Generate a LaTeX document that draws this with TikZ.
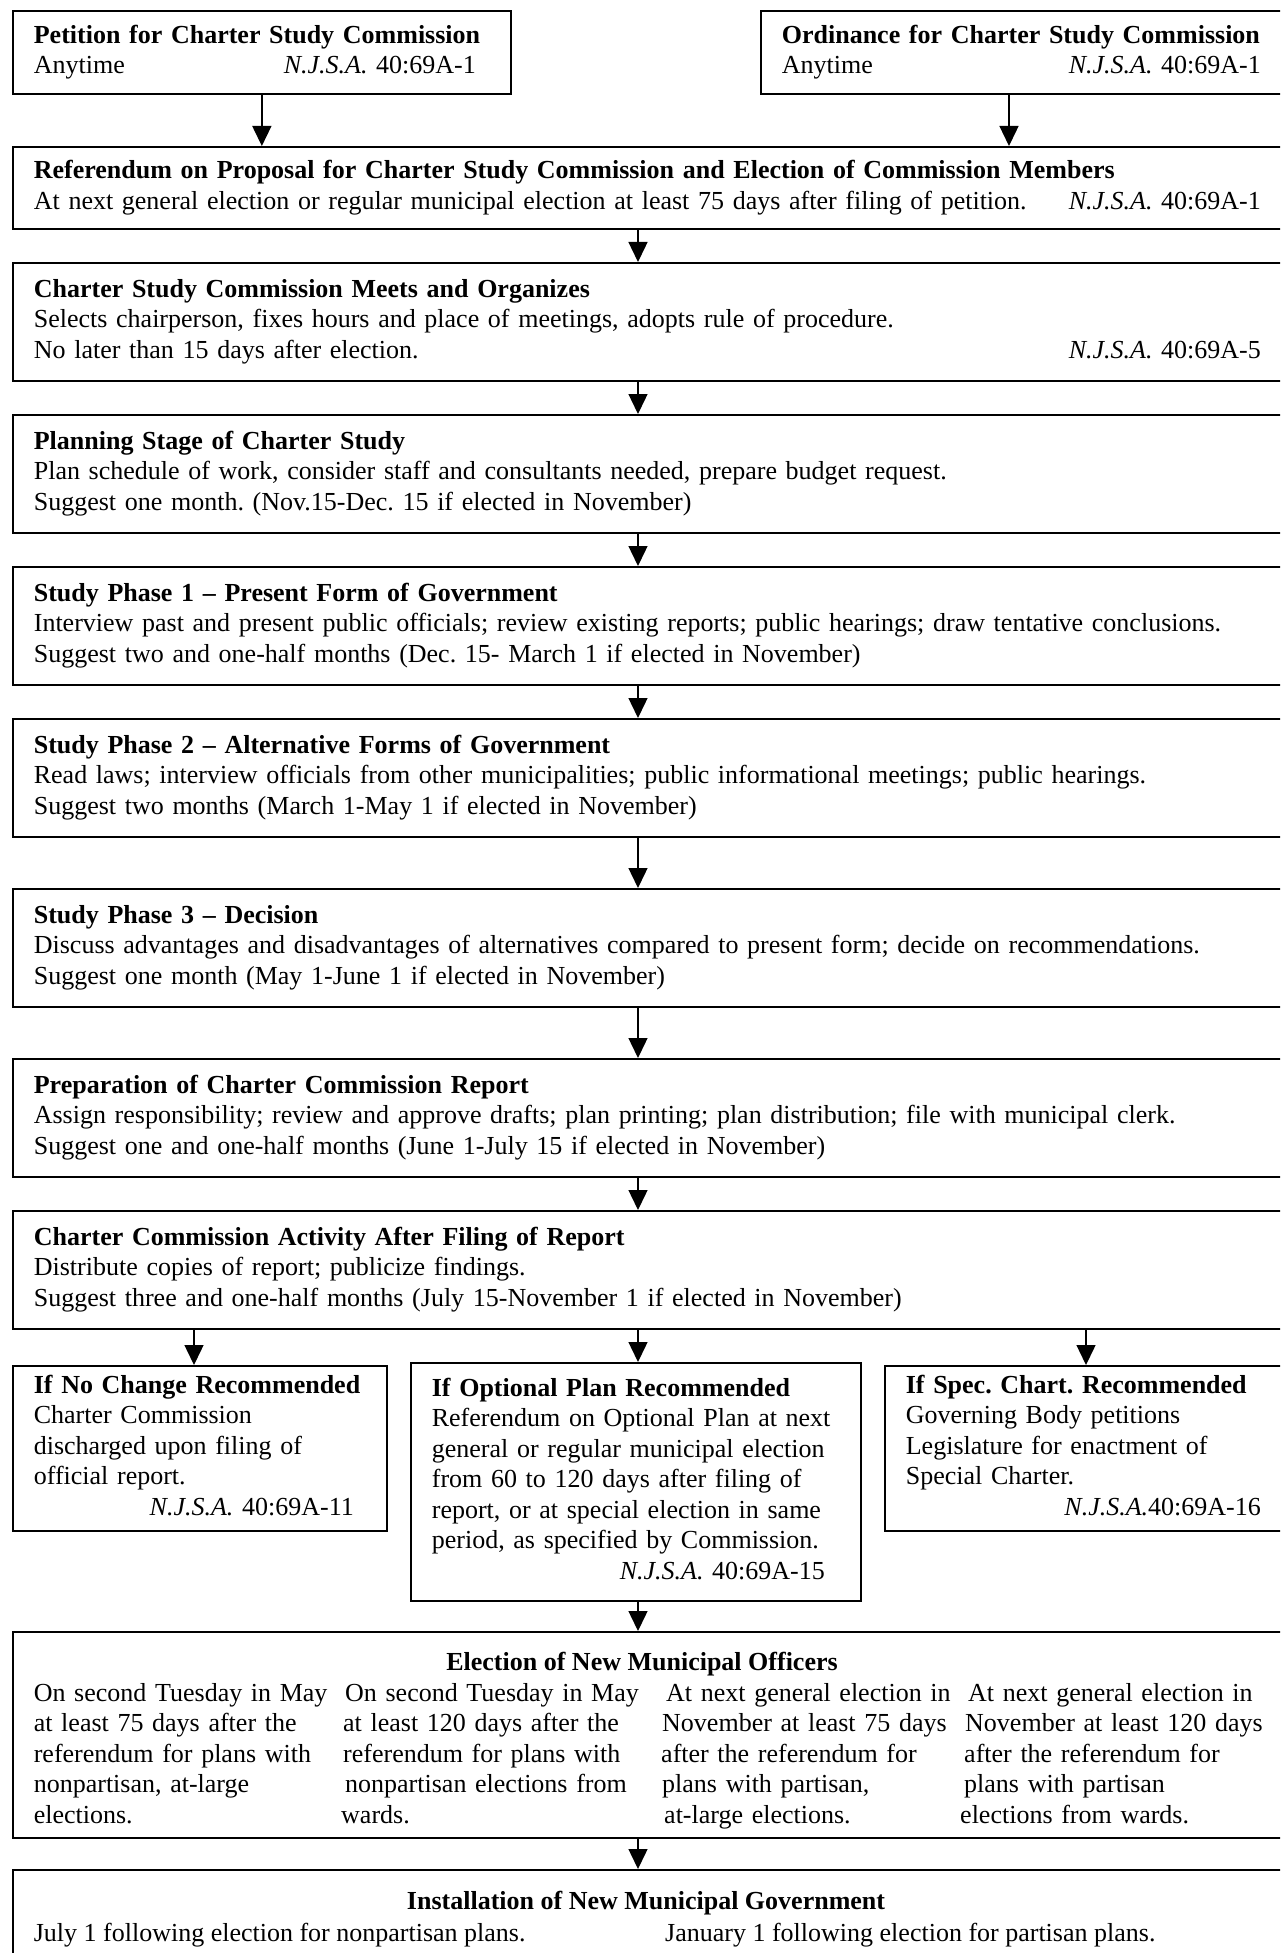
\documentclass[tikz,border=0pt]{standalone}
\usepackage{fontspec}
\setmainfont{Liberation Serif}
\usetikzlibrary{arrows.meta}
\newcommand{\lnbr}{\\\strut}
\newcommand{\njsa}{\textit{N.J.S.A.}}
\newcommand{\rpad}[1]{\hspace*{#1}\null}
\frenchspacing
\begin{document}
\begin{tikzpicture}[x=1pt,y=-1pt,
  font=\fontsize{26}{30.5}\selectfont\frenchspacing,
  box/.style={draw=black, line width=1.7pt, rectangle, anchor=north west, align=left, inner xsep=21pt, inner ysep=0pt},
  wide/.style={box, text width=1236pt, minimum height=118pt},
  plain/.style={inner sep=0pt, align=left, anchor=base west},
  ttl/.style={inner sep=0pt, anchor=base, font=\fontsize{26}{30.5}\selectfont\bfseries},
  arr/.style={line width=1.4pt, -{Triangle[length=20pt,width=19pt]}}]
\useasboundingbox (0,0) rectangle (1280,1953);
\fill[white] (0,0) rectangle (1280,1953);
\clip (0,0) rectangle (1280,1953);

\coordinate (axc) at (638,0);
\coordinate (axo) at (1009,0);
\coordinate (ax1) at (194,0);
\coordinate (ax3) at (1086,0);

\node[box, text width=456pt, minimum height=83pt] (pet) at (12,10)
 {\strut\textbf{Petition for Charter Study Commission}\lnbr Anytime\hspace{\fill}\njsa{} 40:69A-1\rpad{14pt}};
\node[box, text width=492pt, minimum height=83pt] (ord) at (760,10)
 {\strut\textbf{Ordinance for Charter Study Commission}\lnbr Anytime\hspace{\fill}\njsa{} 40:69A-1\rpad{13pt}};

\node[box, text width=1236pt, minimum height=82pt] (ref) at (12,146)
 {\strut\textbf{Referendum on Proposal for Charter Study Commission and Election of Commission Members}\lnbr At next general election or regular municipal election at least 75 days after filing of petition.\hspace{\fill}\njsa{} 40:69A-1\rpad{9pt}};

\node[wide] (meet) at (12,262)
 {\strut\textbf{Charter Study Commission Meets and Organizes}\lnbr Selects chairperson, fixes hours and place of meetings, adopts rule of procedure.\lnbr No later than 15 days after election.\hspace{\fill}\njsa{} 40:69A-5\rpad{9pt}};

\node[wide] (plan) at (12,414)
 {\strut\textbf{Planning Stage of Charter Study}\lnbr Plan schedule of work, consider staff and consultants needed, prepare budget request.\lnbr Suggest one month. (Nov.15-Dec. 15 if elected in November)};

\node[wide] (ph1) at (12,566)
 {\strut\textbf{Study Phase 1 -- Present Form of Government}\lnbr Interview past and present public officials; review existing reports; public hearings; draw tentative conclusions.\lnbr Suggest two and one-half months (Dec. 15- March 1 if elected in November)};

\node[wide] (ph2) at (12,718)
 {\strut\textbf{Study Phase 2 -- Alternative Forms of Government}\lnbr Read laws; interview officials from other municipalities; public informational meetings; public hearings.\lnbr Suggest two months (March 1-May 1 if elected in November)};

\node[wide] (ph3) at (12,888)
 {\strut\textbf{Study Phase 3 -- Decision}\lnbr Discuss advantages and disadvantages of alternatives compared to present form; decide on recommendations.\lnbr Suggest one month (May 1-June 1 if elected in November)};

\node[wide] (prep) at (12,1058)
 {\strut\textbf{Preparation of Charter Commission Report}\lnbr Assign responsibility; review and approve drafts; plan printing; plan distribution; file with municipal clerk.\lnbr Suggest one and one-half months (June 1-July 15 if elected in November)};

\node[wide] (act) at (12,1210)
 {\strut\textbf{Charter Commission Activity After Filing of Report}\lnbr Distribute copies of report; publicize findings.\lnbr Suggest three and one-half months (July 15-November 1 if elected in November)};

\node[box, text width=332pt, minimum height=165pt] (nochg) at (12,1365)
 {\strut\mbox{\textbf{If No Change Recommended}}\lnbr Charter Commission\lnbr discharged upon filing of\lnbr official report.\lnbr\hspace{\fill}\njsa{} 40:69A-11\rpad{12pt}};

\node[box, text width=408pt, minimum height=238pt] (opt) at (410,1362)
 {\strut\textbf{If Optional Plan Recommended}\lnbr Referendum on Optional Plan at next\lnbr general or regular municipal election\lnbr from 60 to 120 days after filing of\lnbr report, or at special election in same\lnbr period, as specified by Commission.\lnbr\hspace{\fill}\njsa{} 40:69A-15\rpad{15pt}};

\node[box, text width=400pt, minimum height=165pt] (spec) at (884,1365)
 {\strut\textbf{If Spec. Chart. Recommended}\lnbr Governing Body petitions\lnbr Legislature for enactment of\lnbr Special Charter.\lnbr\hspace{\fill}\njsa{}40:69A-16\rpad{45pt}};

\node[box, minimum width=1278pt, minimum height=206pt] (elect) at (12,1631) {};
\node[ttl] (eltitle) at (642,1670) {Election of New Municipal Officers};
\node[plain, text width=305pt] (c1) at (33.6,1701)
 {On second Tuesday in May\\at least 75 days after the\\referendum for plans with\\nonpartisan, at-large\\elections.};
\node[plain, text width=305pt] (c2) at (341,1701)
 {\hspace*{4pt}On second Tuesday in May\\\hspace*{2pt}at least 120 days after the\\\hspace*{2pt}referendum for plans with\\\hspace*{4pt}nonpartisan elections from\\wards.};
\node[plain, text width=300pt] (c3) at (661,1701)
 {\hspace*{5pt}At next general election in\\\hspace*{1pt}November at least 75 days\\after the referendum for\\\hspace*{1pt}plans with partisan,\\\hspace*{3pt}at-large elections.};
\node[plain, text width=315pt] (c4) at (960,1701)
 {\hspace*{8pt}At next general election in\\\hspace*{5pt}November at least 120 days\\\hspace*{4pt}after the referendum for\\\hspace*{4pt}plans with partisan\\elections from wards.};

\node[box, minimum width=1278pt, minimum height=110pt] (inst) at (12,1869) {};
\node[ttl] (insttitle) at (646,1909) {Installation of New Municipal Government};
\node[plain] (inst1) at (33.6,1941) {July 1 following election for nonpartisan plans.};
\node[plain] (inst2) at (665,1941) {January 1 following election for partisan plans.};

\draw[arr] (pet.south) -- (pet.south |- ref.north);
\draw[arr] (ord.south -| axo) -- (ref.north -| axo);
\draw[arr] (ref.south -| axc) -- (meet.north -| axc);
\draw[arr] (meet.south -| axc) -- (plan.north -| axc);
\draw[arr] (plan.south -| axc) -- (ph1.north -| axc);
\draw[arr] (ph1.south -| axc) -- (ph2.north -| axc);
\draw[arr] (ph2.south -| axc) -- (ph3.north -| axc);
\draw[arr] (ph3.south -| axc) -- (prep.north -| axc);
\draw[arr] (prep.south -| axc) -- (act.north -| axc);
\draw[arr] (act.south -| ax1) -- (nochg.north -| ax1);
\draw[arr] (act.south -| axc) -- (opt.north -| axc);
\draw[arr] (act.south -| ax3) -- (spec.north -| ax3);
\draw[arr] (opt.south -| axc) -- (elect.north -| axc);
\draw[arr] (elect.south -| axc) -- (inst.north -| axc);
\end{tikzpicture}
\end{document}
